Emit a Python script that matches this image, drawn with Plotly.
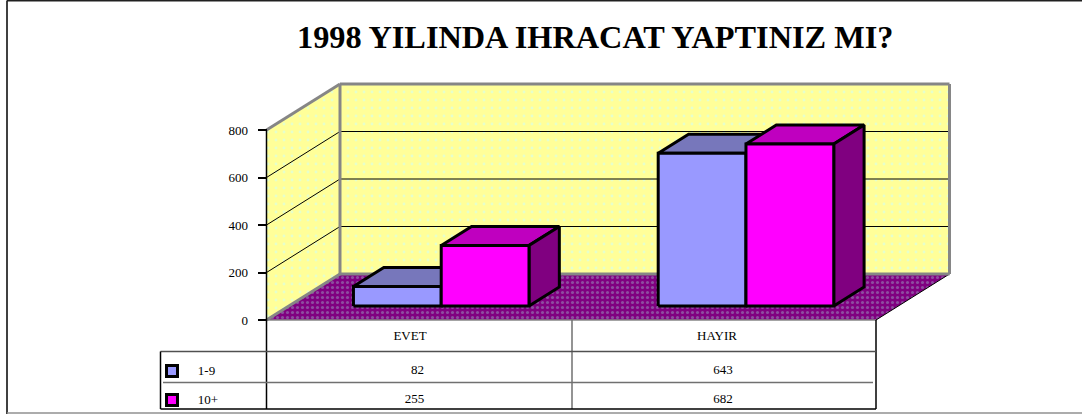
import plotly.graph_objects as go

# ---- data ----
title_text = "1998 YILINDA IHRACAT YAPTINIZ MI?"
categories = ["EVET", "HAYIR"]
series_names = ["1-9", "10+"]
values_1_9 = [82, 643]
values_10_plus = [255, 682]
y_ticks = [0, 200, 400, 600, 800]

# ---- style / projection settings ----
W, H = 1082, 414
PX_X0, PX_Y0 = 266.5, 320.0      # pixel of category 0 / value 0 at front
PX_PER_CAT = 304.75
PX_PER_VAL = 0.2375
DEPTH_PX = (73.5, -46.0)
Y_MAX = 800
SERIES_W = 0.288
Z0, Z1 = 0.304, 0.717
FONT = "Liberation Serif"

x_range = [-PX_X0 / PX_PER_CAT, (W - PX_X0) / PX_PER_CAT]
y_range = [-(H - PX_Y0) / PX_PER_VAL, PX_Y0 / PX_PER_VAL]


def P(cat, val, depth=0.0):
    return (cat + depth * DEPTH_PX[0] / PX_PER_CAT,
            val - depth * DEPTH_PX[1] / PX_PER_VAL)


def px(x_px, y_px):
    """page pixel -> data coordinates, for frame and table rules"""
    return ((x_px - PX_X0) / PX_PER_CAT, (PX_Y0 - y_px) / PX_PER_VAL)


fig = go.Figure()


def poly(points, fill, line_color="rgba(0,0,0,0)", width=0, pattern=None, close=True):
    xs = [p[0] for p in points]
    ys = [p[1] for p in points]
    if close:
        xs.append(xs[0])
        ys.append(ys[0])
    kw = dict(fillpattern=pattern) if pattern else {}
    fig.add_trace(go.Scatter(x=xs, y=ys, mode="lines", fill="toself" if fill else "none",
                             fillcolor=fill, line=dict(color=line_color, width=width),
                             hoverinfo="skip", showlegend=False, **kw))


def seg(a, b, color="#000000", width=1.0):
    poly([a, b], None, color, width, close=False)


def label(x_px, y_px, text):
    x, y = px(x_px, y_px)
    fig.add_trace(go.Scatter(x=[x], y=[y], mode="text", text=[text],
                             textposition="middle center",
                             textfont=dict(family=FONT, size=13, color="#000000"),
                             hoverinfo="skip", showlegend=False))


wall_pat = dict(shape=".", bgcolor="#FFFF99", fgcolor="#CCFFFF", size=8, solidity=0.1)
floor_pat = dict(shape=".", bgcolor="#800080", fgcolor="#9A9AC0", size=5, solidity=0.3)

n = len(categories)
# back wall, side wall, floor
poly([P(0, 0, 1), P(n, 0, 1), P(n, Y_MAX, 1), P(0, Y_MAX, 1)], "#FFFF99", pattern=wall_pat)
poly([P(0, 0), P(0, 0, 1), P(0, Y_MAX, 1), P(0, Y_MAX)], "#FFFF99", pattern=wall_pat)
poly([P(0, 0), P(n, 0), P(n, 0, 1), P(0, 0, 1)], "#800080", pattern=floor_pat)

# gridlines
for t in y_ticks[1:-1]:
    seg(P(0, t), P(0, t, 1))
    seg(P(0, t, 1), P(n, t, 1))
seg(P(n, 0), P(n, 0, 1))

# wall borders
GREY = "#868686"
for a, b in [(P(0, Y_MAX), P(0, Y_MAX, 1)), (P(0, Y_MAX, 1), P(n, Y_MAX, 1)),
             (P(n, Y_MAX, 1), P(n, 0, 1)), (P(0, Y_MAX, 1), P(0, 0, 1)),
             (P(0, 0, 1), P(n, 0, 1)), (P(0, 0), P(0, 0, 1))]:
    seg(a, b, GREY, 3)

# bars
series = [
    (values_1_9, "#9999FF", "#7777BB", "#7777BB"),
    (values_10_plus, "#FF00FF", "#BF00BF", "#800080"),
]
start = 0.5 - SERIES_W
for ci in range(n):
    for si, (vals, front, top, side) in enumerate(series):
        v = vals[ci]
        l = ci + start + si * SERIES_W
        r = l + SERIES_W
        poly([P(l, v, Z0), P(r, v, Z0), P(r, v, Z1), P(l, v, Z1)], top, "#000000", 3)
        poly([P(r, 0, Z0), P(r, 0, Z1), P(r, v, Z1), P(r, v, Z0)], side, "#000000", 3)
        poly([P(l, 0, Z0), P(r, 0, Z0), P(r, v, Z0), P(l, v, Z0)], front, "#000000", 3)

# data table rules
seg(px(266.5, 320), px(876, 320), GREY, 1.5)
seg(px(266.5, 130.5), px(266.5, 409), "#000000", 1.5)
seg(px(876, 320), px(876, 409), "#000000", 1.5)
seg(px(572, 320), px(572, 409), "#707070", 1.5)
seg(px(160.5, 351.5), px(876, 351.5), "#505050", 1.5)
seg(px(163, 382.5), px(873, 382.5), "#707070", 1.5)
seg(px(160.5, 351.5), px(160.5, 409), "#000000", 1.5)
seg(px(160.5, 409), px(876, 409), "#000000", 1.5)

# outer frame
seg(px(7, 0.5), px(7, 414), "#404040", 2)
seg(px(7, 0.5), px(1082, 0.5), "#202020", 2)
seg(px(7, 413), px(1082, 413), "#909090", 1.5)

# table text
cat_label_px = [(410, 337), (717, 337)]
row_label_px = [[(417.5, 371), (723, 371)], [(414.5, 400), (723, 400)]]
name_px = [(206.5, 372), (208, 401)]
key_px = [(172, 371), (172, 400)]

for c, pos in zip(categories, cat_label_px):
    label(pos[0], pos[1], c)
for (vals, front, _, _), name, rpos, npos, kpos in zip(series, series_names, row_label_px, name_px, key_px):
    for v, pos in zip(vals, rpos):
        label(pos[0], pos[1], str(v))
    label(npos[0], npos[1], name)
    kx, ky = px(*kpos)
    fig.add_trace(go.Scatter(x=[kx], y=[ky], mode="markers",
                             marker=dict(symbol="square", size=11, color=front,
                                         line=dict(color="#000000", width=3)),
                             hoverinfo="skip", showlegend=False))

fig.update_layout(
    width=W, height=H, margin=dict(l=0, r=0, t=0, b=0),
    paper_bgcolor="#FFFFFF", plot_bgcolor="#FFFFFF", showlegend=False,
    font=dict(family=FONT, size=13, color="#000000"),
    annotations=[dict(text="<b>%s</b>" % title_text, x=595 / W, y=1 - 37 / H,
                      xref="paper", yref="paper", xanchor="center", yanchor="middle",
                      showarrow=False,
                      font=dict(family=FONT, size=32.3, color="#000000"))],
    xaxis=dict(range=x_range, visible=False, fixedrange=True),
    yaxis=dict(range=y_range, anchor="free", position=PX_X0 / W, tickvals=y_ticks,
               ticks="outside", ticklen=9, tickwidth=1.5, tickcolor="#000000",
               showgrid=False, zeroline=False, showline=False, fixedrange=True,
               ticklabelstandoff=7, tickfont=dict(family=FONT, size=13, color="#000000")),
)
fig.write_html("out.html", config=dict(displayModeBar=False),
               post_script="document.body.style.margin='0';document.body.style.overflow='hidden';")
